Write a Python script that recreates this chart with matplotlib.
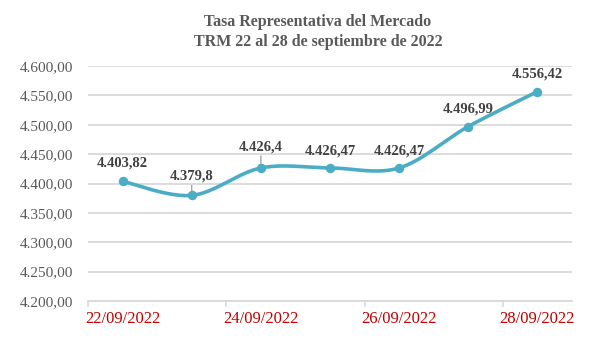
import numpy as np
import matplotlib
matplotlib.use("Agg")
import matplotlib.pyplot as plt

dates = ["22/09/2022", "23/09/2022", "24/09/2022", "25/09/2022",
         "26/09/2022", "27/09/2022", "28/09/2022"]
trm = [4403.82, 4379.8, 4426.4, 4426.47, 4426.47, 4496.99, 4556.42]
y_ticks = [4200, 4250, 4300, 4350, 4400, 4450, 4500, 4550, 4600]
title_lines = ["Tasa Representativa del Mercado", "TRM 22 al 28 de septiembre de 2022"]

FONT = "Liberation Serif"
LINE_COLOR = "#4BACC6"
GRID_COLOR = "#D9D9D9"
TEXT_GRAY = "#595959"
LABEL_COLOR = "#404040"
DATE_RED = "#C00000"


def es_number(v, decimals=None):
    if decimals is None:
        s = repr(float(v))
        if s.endswith(".0"):
            s = s[:-2]
    else:
        s = f"{v:.{decimals}f}"
    ent, _, dec = s.partition(".")
    ent = f"{int(ent):,}".replace(",", ".")
    return ent + ("," + dec if dec else "")


def smooth_curve(x, y, n=40):
    # Catmull-Rom style Bezier smoothing through every point
    x = np.asarray(x, float)
    y = np.asarray(y, float)
    px = np.concatenate([[x[0]], x, [x[-1]]])
    py = np.concatenate([[y[0]], y, [y[-1]]])
    xs, ys = [], []
    t = np.linspace(0, 1, n)
    for i in range(1, len(px) - 2):
        p0 = np.array([px[i], py[i]])
        p3 = np.array([px[i + 1], py[i + 1]])
        c1 = p0 + (np.array([px[i + 1], py[i + 1]]) - np.array([px[i - 1], py[i - 1]])) / 6
        c2 = p3 - (np.array([px[i + 2], py[i + 2]]) - np.array([px[i], py[i]])) / 6
        b = ((1 - t) ** 3)[:, None] * p0 + (3 * (1 - t) ** 2 * t)[:, None] * c1 \
            + (3 * (1 - t) * t ** 2)[:, None] * c2 + (t ** 3)[:, None] * p3
        xs.append(b[:, 0])
        ys.append(b[:, 1])
    return np.concatenate(xs), np.concatenate(ys)


fig = plt.figure(figsize=(6.01, 3.38), dpi=100)
ax = fig.add_axes([88 / 601, 37 / 338, 484 / 601, 235 / 338])

x = np.arange(len(dates))
sx, sy = smooth_curve(x, trm)
ax.plot(sx, sy, color=LINE_COLOR, lw=2.6, solid_capstyle="round", zorder=3)
ax.plot(x, trm, "o", color=LINE_COLOR, ms=5.8, zorder=4)

ax.set_xlim(-0.5, len(dates) - 0.5)
ax.set_ylim(y_ticks[0], y_ticks[-1])
ax.set_yticks(y_ticks)
ax.set_yticklabels([es_number(v, 2) for v in y_ticks], fontfamily=FONT,
                   fontsize=11, color=TEXT_GRAY)
ax.yaxis.grid(True, color=GRID_COLOR, lw=1.3)
ax.set_axisbelow(True)
ax.tick_params(axis="y", length=0, pad=11)

ax.set_xticks(x[::2])
ax.set_xticklabels(dates[::2], fontfamily=FONT, fontsize=12, color=DATE_RED)
ax.set_xticks(np.arange(-0.5, len(dates), 2), minor=True)
ax.tick_params(axis="x", which="major", length=0, pad=7)
ax.tick_params(axis="x", which="minor", length=4, width=1.2, color=GRID_COLOR)

for side in ["top", "right", "left"]:
    ax.spines[side].set_visible(False)
ax.spines["bottom"].set_color(GRID_COLOR)
ax.spines["bottom"].set_linewidth(1.3)

# data labels above each point, with short leader lines where labels sit higher
label_offsets = [18, 19, 21, 17, 17, 18, 18]
leaders = [False, True, True, False, False, False, False]
for xi, yi, off, lead in zip(x, trm, label_offsets, leaders):
    ax.annotate(es_number(yi), (xi, yi), xytext=(0, off), textcoords="offset pixels",
                ha="center", va="center", fontfamily=FONT, fontsize=10.5,
                fontweight="bold", color=LABEL_COLOR, zorder=5)
    if lead:
        ax.annotate("", (xi, yi), xytext=(0, off - 9), textcoords="offset pixels",
                    arrowprops=dict(arrowstyle="-", color="#A6A6A6", lw=1.0,
                                    shrinkA=0, shrinkB=0), zorder=2)

fig.text(318 / 601, 1 - 22 / 338, title_lines[0], ha="center", va="center",
         fontfamily=FONT, fontsize=11.5, fontweight="bold", color=TEXT_GRAY)
fig.text(318 / 601, 1 - 42 / 338, title_lines[1], ha="center", va="center",
         fontfamily=FONT, fontsize=11.5, fontweight="bold", color=TEXT_GRAY)

fig.savefig("out.png", dpi=100)
